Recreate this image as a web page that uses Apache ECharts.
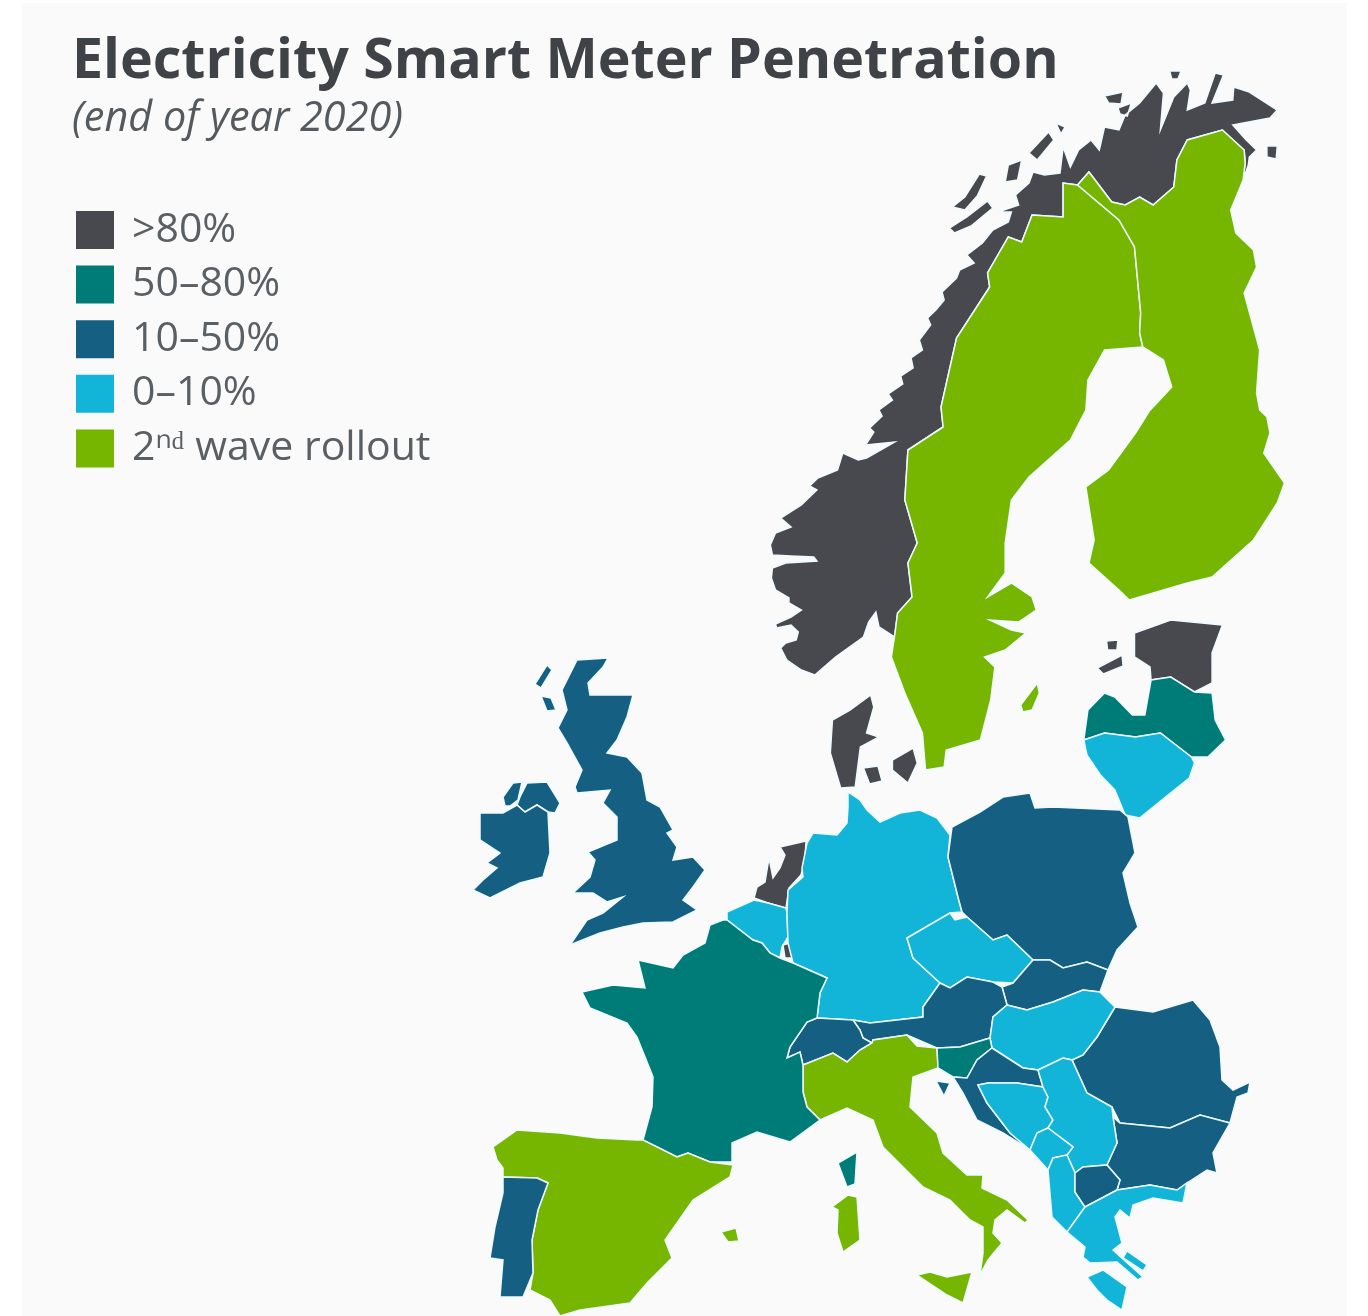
<!DOCTYPE html>
<html>
<head>
<meta charset="utf-8">
<style>html,body{margin:0;padding:0;background:#fff}#c{width:1368px;height:1316px}</style>
<script src="https://cdn.jsdelivr.net/npm/echarts@6/dist/echarts.min.js"></script>
</head>
<body>
<div id="c"></div>
<script>
const titleText = 'Electricity Smart Meter Penetration';
const subtitleText = '(end of year 2020)';
const levelLabels = ['>80%', '50–80%', '10–50%', '0–10%', '2ⁿᵈ wave rollout'];
const levelColors = ['#48484f', '#007c78', '#145f82', '#12b5d8', '#76b500'];
const over80 = ['Norway', 'Denmark', 'Estonia', 'Netherlands', 'Luxembourg'];
const from50to80 = ['France', 'Latvia', 'Slovenia'];
const from10to50 = ['United Kingdom', 'Ireland', 'Portugal', 'Poland', 'Slovakia', 'Austria', 'Switzerland', 'Romania', 'Bulgaria', 'Croatia', 'North Macedonia'];
const from0to10 = ['Germany', 'Belgium', 'Czechia', 'Hungary', 'Lithuania', 'Bosnia', 'Serbia', 'Montenegro', 'Albania', 'Greece'];
const secondWave = ['Sweden', 'Finland', 'Spain', 'Italy'];
const groups = [over80, from50to80, from10to50, from0to10, secondWave];

// Map geometry of the schematic base map (map units)
const northernOutlines = {
  Norway: [
    '813,675 800,670 786,660 780,648 785,643 795,640 797,632 790,625 776,628 775,624 790,617 800,610 788,603 788,598 775,590 771,578 772,568 785,563 815,561 812,557 790,556 772,555 770,545 775,533 790,527 780,518 800,505 815,490 808,486 816,478 835,470 840,453 855,460 863,458 890,442 862,445 870,432 866,428 878,416 875,410 888,400 884,394 898,384 896,376 908,368 906,358 917,350 914,340 925,325 922,318 930,310 938,300 936,292 950,278 953,270 967,263 960,255 975,243 985,230 1000,222 1003,212 990,212 1010,205 1007,195 1020,183 1024,172 1035,175 1050,173 1053,147 1060,167 1068,150 1080,140 1088,150 1093,127 1107,130 1113,115 1127,103 1143,83 1150,93 1147,130 1160,97 1173,83 1176,90 1173,110 1190,103 1200,73 1208,75 1197,103 1217,100 1218,87 1233,92 1260,110 1253,118 1217,125 1230,140 1240,150 1233,157 1232,165 1227,180 1229,163 1228,150 1207,130 1173,140 1163,160 1160,187 1140,205 1127,197 1113,205 1100,202 1078,172 1067,185 1053,183 1053,217 1023,215 1013,242 1000,237 980,273 982,287 950,338 935,407 937,427 903,450 900,500 912,543 903,563 907,597 893,613 890,637 875,627 872,612 865,622 860,637 833,657',
    '943,228 960,217 980,201 985,208 964,226 948,233',
    '946,207 958,197 972,174 979,176 970,196 958,210',
    '1000,165 1013,160 1009,180 997,182',
    '1020,153 1039,132 1044,140 1028,160',
    '1046,123 1055,127 1051,134',
    '1093,96 1111,92 1109,104 1097,103',
    '1106,108 1119,103 1115,116 1108,114',
    '1156,71 1167,71 1164,79 1158,79',
    '1250,146 1260,146 1259,159 1250,157'
  ],
  Sweden: [
    '1067,185 1107,220 1122,247 1128,313 1127,333 1130,347 1093,350 1077,380 1075,410 1060,440 1020,477 1003,500 997,543 997,573 980,597 1003,583 1023,597 1027,610 1010,622 982,620 1003,630 1017,633 997,650 977,657 987,667 983,700 973,740 940,750 938,767 920,770 917,733 900,693 887,657 890,637 893,613 907,597 903,563 912,543 900,500 903,450 937,427 935,407 950,338 982,287 980,273 1000,237 1013,242 1023,215 1053,217 1053,183',
    '1028,683 1012,705 1014,712 1023,710 1030,693'
  ],
  Finland: [
    '1130,347 1127,333 1128,313 1122,247 1107,220 1067,185 1078,172 1100,202 1113,205 1127,197 1140,205 1160,187 1163,160 1173,140 1207,130 1228,150 1229,163 1227,180 1215,210 1220,233 1237,250 1240,267 1228,293 1243,350 1240,393 1243,410 1250,417 1253,433 1247,453 1267,483 1260,503 1237,540 1197,577 1173,583 1117,600 1107,590 1078,563 1083,540 1075,487 1097,470 1123,433 1143,400 1140,407 1158,387 1150,360'
  ],
  Estonia: [
    '1122,633 1157,620 1207,625 1197,653 1197,683 1180,692 1157,677 1138,680 1137,667 1122,657',
    '1086,668 1110,655 1111,666 1092,674',
    '1095,641 1106,640 1105,650 1096,650'
  ],
  Latvia: ['1073,740 1077,710 1093,693 1103,697 1120,715 1132,715 1138,680 1157,677 1180,692 1197,693 1200,720 1210,740 1193,757 1177,757 1147,733 1123,737 1093,733'],
  Lithuania: ['1073,740 1093,733 1123,737 1147,733 1177,757 1180,763 1175,778 1152,797 1127,818 1113,815 1103,790 1089,775 1076,755'],
  Denmark: [
    '867,695 870,707 863,733 875,737 857,747 852,787 838,788 828,753 830,720 847,710',
    '888,760 908,748 912,763 903,783 888,770',
    '860,768 874,766 878,781 866,784'
  ]
};
const otherOutlines = {
  'United Kingdom': [
    '577,660 608,658 603,667 588,683 590,695 633,695 627,717 617,740 607,753 627,757 642,773 647,800 660,807 673,830 667,833 677,847 673,860 693,857 705,870 693,887 683,900 697,910 673,922 643,923 623,927 600,933 570,945 587,920 603,913 623,897 607,902 593,893 573,893 590,877 595,860 588,852 617,840 617,817 603,803 610,790 577,793 575,787 582,770 567,743 558,728 567,710 562,690',
    '535,684 547,665 552,670 541,688',
    '541,696 551,698 556,710 547,711',
    '520,797 527,783 547,782 560,803 555,813 548,812 537,805 525,812 517,805'
  ],
  Ireland: [
    '480,813 503,813 517,805 525,812 537,805 548,812 550,853 543,877 520,883 490,898 473,890 483,880 497,868 487,863 500,853 480,840 480,827',
    '503,797 513,783 522,782 518,800 510,806 505,806'
  ],
  Netherlands: ['780,847 806,841 805,860 801,875 789,888 786,908 768,903 754,898 757,887 765,882 769,858 773,878 780,868 785,855'],
  Belgium: ['727,912 754,900 768,903 786,908 787,913 788,937 782,947 780,958 770,953 762,943 753,940 727,920'],
  Luxembourg: ['783,945 790,943 792,958 785,958'],
  Germany: ['848,792 860,800 867,810 880,822 900,813 920,810 937,818 950,835 948,857 958,897 962,912 950,913 907,938 913,958 940,983 923,1007 923,1017 870,1023 853,1020 817,1018 820,993 827,978 793,963 788,943 787,913 788,890 803,877 802,868 807,843 813,833 837,835 847,823 848,807'],
  Poland: ['952,827 980,812 1003,797 1030,793 1035,808 1053,807 1120,810 1128,817 1135,853 1123,873 1130,903 1138,927 1117,950 1108,970 1087,962 1063,968 1050,960 1033,960 1007,935 993,940 967,917 962,912 958,897 948,857'],
  Czechia: ['907,938 950,913 955,920 967,917 993,940 1007,935 1033,960 1013,983 993,982 967,977 950,988 940,983 913,958'],
  Slovakia: ['1033,960 1050,960 1063,968 1087,962 1108,970 1100,992 1083,990 1053,1002 1027,1010 1007,1005 1002,987 1013,983'],
  Austria: ['940,983 950,988 967,977 993,982 1002,987 1007,1005 993,1017 990,1038 960,1047 937,1048 907,1035 873,1040 872,1043 863,1038 860,1030 853,1020 870,1023 923,1017 923,1007'],
  Switzerland: ['817,1018 853,1020 860,1030 863,1038 872,1043 860,1050 847,1062 833,1053 803,1065 800,1052 787,1058 790,1047 807,1022'],
  Italy: [
    '803,1065 833,1053 847,1062 860,1050 872,1043 873,1040 907,1035 917,1046 937,1048 938,1068 913,1077 910,1107 937,1133 943,1153 967,1175 983,1175 982,1188 1007,1200 1028,1220 1025,1223 1007,1210 995,1220 993,1233 1002,1243 988,1260 980,1275 983,1253 983,1227 970,1220 950,1200 923,1187 883,1147 873,1120 847,1108 820,1120 807,1107 803,1092',
    '917,1275 930,1272 947,1277 972,1272 963,1303 947,1295',
    '848,1195 857,1197 860,1240 843,1252 837,1233 838,1210 832,1207'
  ],
  France: [
    '723,920 727,920 753,940 762,943 770,953 780,958 793,963 827,978 820,993 817,1018 807,1022 790,1047 787,1058 800,1052 803,1065 803,1092 807,1107 820,1120 790,1142 757,1132 732,1143 732,1162 710,1162 688,1153 677,1157 643,1140 652,1107 653,1077 637,1037 627,1023 590,1008 582,992 613,985 645,988 638,960 673,968 683,955 705,943 710,925',
    '857,1152 855,1184 847,1187 838,1163'
  ],
  Spain: [
    '493,1147 517,1130 560,1133 597,1138 637,1140 643,1140 677,1157 688,1153 710,1162 733,1165 730,1177 693,1200 665,1240 672,1258 647,1283 630,1303 580,1310 560,1316 550,1300 530,1290 533,1273 532,1240 538,1210 548,1183 537,1178 503,1177 503,1168 497,1160',
    '721,1232 736,1228 739,1241 728,1242'
  ],
  Portugal: ['503,1177 537,1178 548,1183 538,1210 532,1240 533,1273 523,1297 500,1297 503,1260 490,1258 495,1227 503,1193'],
  Romania: ['1115,1007 1153,1012 1193,1000 1210,1020 1220,1047 1222,1080 1233,1090 1250,1082 1248,1093 1237,1097 1230,1123 1200,1115 1170,1128 1120,1123 1112,1107 1087,1093 1072,1060 1083,1055 1097,1037'],
  Bulgaria: ['1120,1123 1170,1128 1200,1115 1230,1123 1213,1153 1217,1173 1207,1170 1187,1183 1177,1190 1150,1185 1117,1190 1120,1180 1107,1165 1117,1143 1113,1117'],
  Hungary: ['990,1038 993,1017 1007,1005 1027,1010 1053,1002 1083,990 1100,992 1115,1007 1097,1037 1083,1055 1072,1060 1063,1058 1038,1070 1023,1068 992,1048'],
  Slovenia: ['937,1048 960,1047 990,1038 992,1048 977,1060 967,1078 953,1077 938,1068'],
  Croatia: [
    '992,1048 1023,1068 1038,1070 1043,1087 1017,1083 988,1083 978,1085 987,1103 1010,1133 1030,1150 1003,1133 977,1120 963,1093 953,1077 967,1078 977,1060',
    '936,1081 950,1083 944,1096'
  ],
  Bosnia: ['978,1085 988,1083 1017,1083 1043,1087 1048,1097 1045,1107 1053,1120 1048,1128 1037,1133 1030,1150 1010,1133 987,1103'],
  Serbia: ['1038,1070 1063,1058 1072,1060 1087,1093 1112,1107 1113,1117 1117,1143 1107,1165 1083,1167 1075,1173 1067,1155 1073,1147 1048,1128 1053,1120 1045,1107 1048,1097 1043,1087'],
  Montenegro: ['1037,1133 1048,1128 1073,1147 1067,1155 1053,1158 1048,1170 1030,1150'],
  Albania: ['1053,1158 1067,1155 1075,1173 1075,1192 1085,1207 1067,1232 1052,1217 1048,1170'],
  'North Macedonia': ['1075,1173 1083,1167 1107,1165 1120,1180 1117,1190 1085,1207 1075,1192'],
  Greece: [
    '1085,1207 1117,1190 1150,1185 1177,1190 1187,1183 1183,1203 1153,1198 1133,1205 1130,1218 1120,1210 1115,1217 1122,1243 1113,1250 1143,1277 1138,1280 1117,1262 1090,1263 1083,1257 1085,1247 1067,1232',
    '1087,1277 1103,1270 1127,1287 1122,1310 1107,1300 1097,1290',
    '1127,1251 1147,1265 1143,1271 1123,1258'
  ]
};

const toRing = (s, xScale) => {
  const r = s.split(' ').map(p => {
    const [x, y] = p.split(',').map(Number);
    return [760 + (x - 760) * xScale, y];
  });
  r.push(r[0]);
  return r;
};
const toFeatures = (outlines, xScale) => Object.keys(outlines).map(name => ({
  type: 'Feature',
  properties: { name },
  geometry: { type: 'MultiPolygon', coordinates: outlines[name].map(s => [toRing(s, xScale)]) }
}));
echarts.registerMap('europe', {
  type: 'FeatureCollection',
  features: toFeatures(northernOutlines, 1.0345).concat(toFeatures(otherOutlines, 1))
});

const seriesData = [];
groups.forEach((g, i) => g.forEach(name => seriesData.push({ name, value: i })));

const chart = echarts.init(document.getElementById('c'), null, { renderer: 'canvas' });
chart.setOption({
  animation: false,
  backgroundColor: '#ffffff',
  graphic: [{ type: 'rect', z: -1, shape: { x: 22, y: 3, width: 1325, height: 1313 }, style: { fill: '#fafafa' }, silent: true }],
  title: {
    text: titleText,
    subtext: subtitleText,
    left: 72, top: 34,
    itemGap: 9,
    padding: 0,
    textStyle: { fontFamily: '"Open Sans"', fontWeight: 'bold', fontSize: 55.5, color: '#3f4347' },
    subtextStyle: { fontFamily: '"Open Sans"', fontStyle: 'italic', fontSize: 41.4, color: '#555a5e' }
  },
  visualMap: {
    type: 'piecewise',
    left: 76, top: 209.5,
    padding: 0,
    orient: 'vertical',
    inverse: true,
    hoverLink: false,
    selectedMode: false,
    itemWidth: 38, itemHeight: 38, itemGap: 13.6, textGap: 18,
    itemSymbol: 'rect',
    textStyle: { fontFamily: '"Open Sans"', fontSize: 41, color: '#5a5f63' },
    pieces: levelLabels.map((label, i) => ({ value: i, label, color: levelColors[i] }))
  },
  series: [{
    type: 'map',
    map: 'europe',
    projection: { project: p => p, unproject: p => p },
    boundingCoords: [[0, 0], [1368, 1316]],
    left: 0, top: 0, width: 1368, height: 1316,
    aspectScale: 1,
    roam: false,
    silent: true,
    selectedMode: false,
    label: { show: false },
    emphasis: { disabled: true },
    itemStyle: { borderColor: '#eefbff', borderWidth: 1.5, areaColor: '#cccccc' },
    data: seriesData
  }]
});
</script>
</body>
</html>
